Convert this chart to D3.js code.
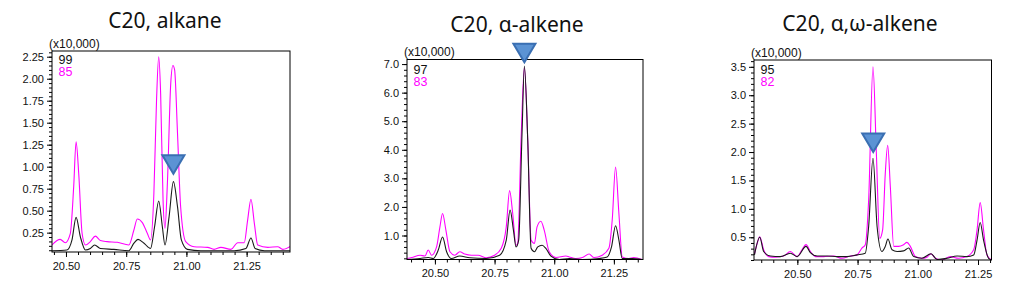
<!DOCTYPE html>
<html>
<head>
<meta charset="utf-8">
<script src="https://cdn.jsdelivr.net/npm/d3@7"></script>
<style>
  html, body { margin: 0; padding: 0; background: #fff; }
  svg { display: block; }
</style>
</head>
<body>
<svg id="chart" width="1010" height="287"></svg>
<script>
// ---------------- DATA ----------------
const titles = ["C20, alkane", "C20, \u03b1-alkene", "C20, \u03b1,\u03c9-alkene"];
const scaleLabel = "(x10,000)";
const blackIons = ["99", "97", "95"];
const magentaIons = ["85", "83", "82"];

const xTickValues = [20.50, 20.75, 21.00, 21.25];
const yTickValues1 = [0.25, 0.50, 0.75, 1.00, 1.25, 1.50, 1.75, 2.00, 2.25];
const yTickValues2 = [1.0, 2.0, 3.0, 4.0, 5.0, 6.0, 7.0];
const yTickValues3 = [0.5, 1.0, 1.5, 2.0, 2.5, 3.0, 3.5];

// Panel 1: C20 alkane (x10,000)
const alkaneTime85 = [20.442,20.476,20.497,20.518,20.532,20.542,20.553,20.567,20.581,20.601,
  20.622,20.643,20.671,20.713,20.761,20.782,20.796,20.817,20.838,20.851,
  20.865,20.876,20.885,20.893,20.903,20.911,20.921,20.935,20.944,20.951,
  20.963,20.976,20.997,21.032,21.088,21.115,21.143,21.185,21.213,21.240,
  21.254,21.268,21.282,21.296,21.338,21.379,21.400,21.435];
const alkane85 = [0.11,0.174,0.136,0.24,0.77,1.284,0.92,0.24,0.11,0.148,
  0.21,0.16,0.148,0.14,0.11,0.28,0.405,0.364,0.24,0.167,
  0.70,1.76,2.25,1.83,0.62,0.30,0.81,1.95,2.15,2.10,
  1.38,0.545,0.148,0.09,0.083,0.06,0.083,0.06,0.136,0.136,
  0.39,0.63,0.356,0.11,0.083,0.09,0.06,0.1];
const alkaneTime99 = [20.442,20.504,20.525,20.542,20.560,20.581,20.601,20.619,20.643,20.699,
  20.761,20.782,20.799,20.824,20.851,20.868,20.885,20.900,20.911,20.928,
  20.946,20.963,20.979,21.004,21.060,21.199,21.247,21.268,21.285,21.324,21.435];
const alkane99 = [0.045,0.053,0.167,0.424,0.2,0.053,0.07,0.11,0.07,0.06,
  0.045,0.13,0.174,0.13,0.07,0.32,0.61,0.32,0.11,0.43,
  0.83,0.545,0.167,0.06,0.045,0.045,0.07,0.19,0.07,0.045,0.045];

// Panel 2: C20 alpha-alkene (x10,000)
const alkeneTime83 = [20.382,20.403,20.438,20.458,20.472,20.486,20.507,20.521,20.532,20.546,
  20.563,20.583,20.604,20.625,20.653,20.681,20.715,20.750,20.778,20.799,
  20.813,20.826,20.840,20.847,20.861,20.875,20.889,20.903,20.917,20.928,
  20.944,20.958,20.979,21.007,21.049,21.063,21.090,21.118,21.146,21.167,
  21.201,21.229,21.243,21.257,21.271,21.285,21.313,21.333,21.368];
const alkene83 = [0.195,0.23,0.31,0.28,0.49,0.31,0.6,1.3,1.77,1.19,
  0.43,0.31,0.43,0.35,0.31,0.31,0.22,0.31,0.55,1.3,
  2.57,1.77,0.66,0.72,4.34,6.88,4.34,0.84,0.72,1.3,
  1.5,1.19,0.43,0.23,0.28,0.25,0.195,0.23,0.35,0.23,
  0.31,0.55,1.54,3.4,1.77,0.25,0.195,0.23,0.16];
const alkeneTime97 = [20.382,20.438,20.472,20.493,20.514,20.532,20.549,20.569,20.604,20.646,
  20.715,20.771,20.799,20.815,20.829,20.840,20.851,20.865,20.875,20.889,
  20.903,20.917,20.931,20.949,20.965,20.986,21.021,21.063,21.118,21.188,
  21.222,21.240,21.257,21.271,21.285,21.326,21.368];
const alkene97 = [0.16,0.195,0.23,0.195,0.49,0.95,0.43,0.195,0.28,0.22,
  0.195,0.31,0.84,1.89,1.19,0.6,0.84,4.57,6.93,4.33,
  0.55,0.43,0.6,0.66,0.55,0.28,0.16,0.195,0.16,0.195,
  0.25,0.6,1.34,0.84,0.195,0.195,0.16];

// Panel 3: C20 alpha,omega-alkene (x10,000)
const dieneTime82 = [20.322,20.333,20.344,20.360,20.381,20.409,20.443,20.471,20.499,20.519,
  20.536,20.554,20.575,20.609,20.651,20.685,20.720,20.748,20.768,20.782,
  20.796,20.814,20.828,20.842,20.854,20.865,20.875,20.886,20.900,20.920,
  20.941,20.955,20.969,20.990,21.017,21.038,21.055,21.073,21.100,21.135,
  21.169,21.204,21.232,21.246,21.259,21.273,21.287,21.308];
const diene82 = [0.21,0.39,0.51,0.28,0.16,0.15,0.17,0.25,0.16,0.28,
  0.37,0.25,0.16,0.16,0.17,0.13,0.17,0.19,0.31,0.37,
  1.16,3.5,1.98,0.48,0.63,1.62,2.12,1.39,0.34,0.34,
  0.37,0.41,0.34,0.16,0.13,0.15,0.21,0.13,0.1,0.16,
  0.13,0.16,0.28,0.63,1.11,0.63,0.19,0.1];
const dieneTime95 = [20.322,20.344,20.360,20.388,20.429,20.471,20.499,20.536,20.554,20.582,
  20.623,20.665,20.706,20.748,20.782,20.796,20.814,20.831,20.851,20.865,
  20.876,20.893,20.914,20.941,20.962,20.983,21.017,21.055,21.080,21.121,
  21.163,21.204,21.232,21.246,21.259,21.273,21.294,21.308];
const diene95 = [0.19,0.5,0.25,0.17,0.16,0.22,0.16,0.34,0.23,0.17,
  0.17,0.16,0.16,0.19,0.22,0.69,1.89,0.69,0.25,0.34,
  0.47,0.28,0.25,0.26,0.31,0.16,0.13,0.21,0.11,0.13,
  0.17,0.16,0.19,0.45,0.76,0.45,0.13,0.1];

// Peak markers (retention time, intensity at marker apex)
const markerTimes = [20.946, 20.875, 20.815];
const markerValues = [0.92, 7.06, 2.0];

// ---------------- LAYOUT ----------------
const panels = [
  { title: titles[0], tx: 165, ty: 28,
    xDomain: [20.442, 21.430], xRange: [52, 290],
    yDomain: [0.03, 2.315], yRange: [252, 51],
    yTicks: yTickValues1, yFmt: ".2f", yMinor: 0.05,
    black: [alkaneTime99, alkane99], magenta: [alkaneTime85, alkane85],
    ionB: blackIons[0], ionM: magentaIons[0], legY: 63.5 },
  { title: titles[1], tx: 517, ty: 31.5,
    xDomain: [20.383, 21.372], xRange: [407, 643],
    yDomain: [0.16, 7.16], yRange: [259.5, 59.5],
    yTicks: yTickValues2, yFmt: ".1f", yMinor: 0.2,
    black: [alkeneTime97, alkene97], magenta: [alkeneTime83, alkene83],
    ionB: blackIons[1], ionM: magentaIons[1], legY: 74 },
  { title: titles[2], tx: 860, ty: 31,
    xDomain: [20.32, 21.306], xRange: [754, 991.5],
    yDomain: [0.1, 3.62], yRange: [260, 60],
    yTicks: yTickValues3, yFmt: ".1f", yMinor: 0.1,
    black: [dieneTime95, diene95], magenta: [dieneTime82, diene82],
    ionB: blackIons[2], ionM: magentaIons[2], legY: 74 }
];

const svg = d3.select("#chart");
const axisFont = "'Liberation Sans', Arial, sans-serif";

panels.forEach((p, i) => {
  const x = d3.scaleLinear().domain(p.xDomain).range(p.xRange);
  const y = d3.scaleLinear().domain(p.yDomain).range(p.yRange);
  const [x0, x1] = p.xRange;
  const [yb, yt] = p.yRange;

  const g = svg.append("g");

  // title
  g.append("text").attr("x", p.tx).attr("y", p.ty)
    .attr("text-anchor", "middle")
    .style("font-family", "'Noto Sans', 'Open Sans', sans-serif")
    .style("font-size", "21px").attr("fill", "#111")
    .text(p.title);

  // clip
  const cid = "clip" + i;
  svg.append("defs").append("clipPath").attr("id", cid)
    .append("rect").attr("x", x0).attr("y", yt).attr("width", x1 - x0).attr("height", yb - yt);

  // traces
  const line = d3.line().x(d => x(d[0])).y(d => y(d[1])).curve(d3.curveMonotoneX);
  const mData = d3.zip(p.magenta[0], p.magenta[1]);
  const bData = d3.zip(p.black[0], p.black[1]);
  const plot = g.append("g").attr("clip-path", `url(#${cid})`);
  plot.append("path").datum(mData).attr("d", line)
    .attr("fill", "none").attr("stroke", "#ff00ff").attr("stroke-width", 1.1);
  plot.append("path").datum(bData).attr("d", line)
    .attr("fill", "none").attr("stroke", "#1a1a1a").attr("stroke-width", 1.1);

  // y axis
  const yMinorTicks = d3.range(Math.ceil(p.yDomain[0] / p.yMinor) * p.yMinor, p.yDomain[1], p.yMinor);
  const yAxisMinor = d3.axisLeft(y).tickValues(yMinorTicks).tickSize(3).tickFormat("");
  g.append("g").attr("transform", `translate(${x0},0)`).call(yAxisMinor)
    .call(s => s.select(".domain").remove());
  const yAxis = d3.axisLeft(y).tickValues(p.yTicks).tickSize(5).tickPadding(3).tickFormat(d3.format(p.yFmt));
  g.append("g").attr("transform", `translate(${x0},0)`).call(yAxis)
    .call(s => s.select(".domain").remove())
    .call(s => s.selectAll("text").style("font-family", axisFont).style("font-size", "11px").attr("fill", "#111"));

  // x axis
  const xMinorTicks = d3.range(Math.ceil(p.xDomain[0] / 0.05) * 0.05, p.xDomain[1], 0.05);
  const xAxisMinor = d3.axisBottom(x).tickValues(xMinorTicks).tickSize(3).tickFormat("");
  g.append("g").attr("transform", `translate(0,${yb})`).call(xAxisMinor)
    .call(s => s.select(".domain").remove());
  const xAxis = d3.axisBottom(x).tickValues(xTickValues).tickSize(5).tickPadding(5).tickFormat(d3.format(".2f"));
  g.append("g").attr("transform", `translate(0,${yb})`).call(xAxis)
    .call(s => s.select(".domain").remove())
    .call(s => s.selectAll("text").style("font-family", axisFont).style("font-size", "11px").attr("fill", "#111"));

  // frame
  g.append("rect").attr("x", x0).attr("y", yt).attr("width", x1 - x0).attr("height", yb - yt)
    .attr("fill", "none").attr("stroke", "#000").attr("stroke-width", 1);

  // scale label
  g.append("text").attr("x", x0 - 3).attr("y", yt - 3.5)
    .style("font-family", axisFont).style("font-size", "12px").attr("fill", "#111")
    .text(scaleLabel);

  // ion legend
  g.append("text").attr("x", x0 + 6.5).attr("y", p.legY)
    .style("font-family", axisFont).style("font-size", "12.5px").attr("fill", "#111").text(p.ionB);
  g.append("text").attr("x", x0 + 6.5).attr("y", p.legY + 12)
    .style("font-family", axisFont).style("font-size", "12.5px").attr("fill", "#ff00ff").text(p.ionM);

  // peak marker (inverted triangle)
  const mx = x(markerTimes[i]), my = y(markerValues[i]);
  const w = 11, h = 18.5;
  g.append("path")
    .attr("d", `M${mx - w},${my - h}L${mx + w},${my - h}L${mx},${my}Z`)
    .attr("fill", "#5b93d4").attr("stroke", "#3a6fb2").attr("stroke-width", 2)
    .attr("stroke-linejoin", "miter");
});
</script>
</body>
</html>
